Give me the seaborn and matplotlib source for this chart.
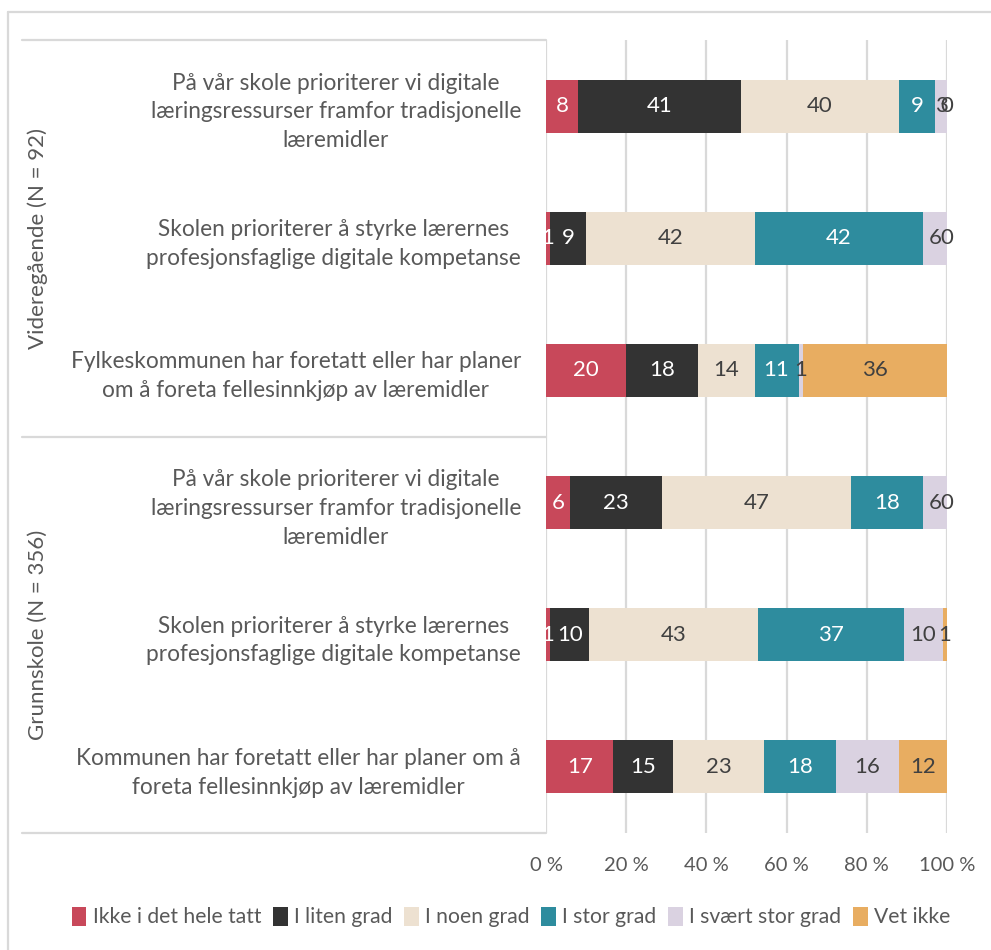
import numpy as np
import pandas as pd
import matplotlib
matplotlib.use("Agg")
import matplotlib.pyplot as plt
import matplotlib.transforms as mtransforms
from matplotlib.lines import Line2D
from matplotlib.patches import Patch
import seaborn as sns

# --- data -------------------------------------------------------------
statements = [
    "På vår skole prioriterer vi digitale\nlæringsressurser framfor tradisjonelle\nlæremidler",
    "Skolen prioriterer å styrke lærernes\nprofesjonsfaglige digitale kompetanse",
    "Fylkeskommunen har foretatt eller har planer\nom å foreta fellesinnkjøp av læremidler",
    "På vår skole prioriterer vi digitale\nlæringsressurser framfor tradisjonelle\nlæremidler",
    "Skolen prioriterer å styrke lærernes\nprofesjonsfaglige digitale kompetanse",
    "Kommunen har foretatt eller har planer om å\nforeta fellesinnkjøp av læremidler",
]
groups = ["Videregående (N = 92)", "Grunnskole (N = 356)"]
responses = ["Ikke i det hele tatt", "I liten grad", "I noen grad",
             "I stor grad", "I svært stor grad", "Vet ikke"]

ikke_i_det_hele_tatt = [8, 1, 20, 6, 1, 17]
i_liten_grad = [41, 9, 18, 23, 10, 15]
i_noen_grad = [40, 42, 14, 47, 43, 23]
i_stor_grad = [9, 42, 11, 18, 37, 18]
i_svaert_stor_grad = [3, 6, 1, 6, 10, 16]
vet_ikke = [0, 0, 36, 0, 1, 12]

x_ticks = [0, 20, 40, 60, 80, 100]

colors = ["#C8485A", "#333333", "#EDE1D1", "#2E8C9E", "#DAD2E1", "#E8AD61"]
label_colors = ["white", "white", "#404040", "white", "#404040", "#404040"]

# --- tidy table with shares of each row (100 % stacked) ---------------
series = [ikke_i_det_hele_tatt, i_liten_grad, i_noen_grad,
          i_stor_grad, i_svaert_stor_grad, vet_ikke]
row_ids = [f"row{i}" for i in range(len(statements))]
records = []
for r, rid in enumerate(row_ids):
    vals = [s[r] for s in series]
    total = sum(vals)
    start = 0.0
    for k, resp in enumerate(responses):
        share = vals[k] / total * 100
        records.append(dict(row=rid, pos=r, response=resp, k=k, value=vals[k],
                            start=start, end=start + share))
        start += share
df = pd.DataFrame(records)

# --- style ------------------------------------------------------------
sns.set_style("white")
plt.rcParams["font.family"] = ["Lato", "DejaVu Sans"]
text_grey = "#595959"
grid_grey = "#D9D9D9"

fig = plt.figure(figsize=(9.91, 9.5), dpi=100)
ax = fig.add_axes([546 / 991, 1 - 833 / 950, 401 / 991, 793 / 950])

# stacked bars: draw cumulative ends from the last category backwards
for k in reversed(range(len(responses))):
    sub = df[df["k"] == k]
    sns.barplot(data=sub, x="end", y="row", order=row_ids, orient="h",
                color=colors[k], saturation=1, width=0.4, errorbar=None,
                linewidth=0, ax=ax)

# value labels centred in each segment
for _, rec in df.iterrows():
    ax.text((rec["start"] + rec["end"]) / 2, rec["pos"], f"{rec['value']:d}",
            ha="center", va="center", fontsize=16,
            color=label_colors[rec["k"]])

# axes
ax.set_xlim(0, 100)
ax.set_ylim(5.5, -0.5)
ax.set_xticks(x_ticks)
ax.set_xticklabels([f"{t} %" for t in x_ticks])
ax.set_yticks(range(len(statements)))
ax.set_yticklabels(statements, multialignment="center", linespacing=1.45)
ax.set_xlabel("")
ax.set_ylabel("")
for sp in ax.spines.values():
    sp.set_visible(False)
ax.grid(axis="x", color=grid_grey, linewidth=1.6)
ax.grid(axis="y", visible=False)
ax.set_axisbelow(True)
ax.tick_params(axis="x", length=0, pad=17, labelsize=14.5, labelcolor=text_grey)
ax.tick_params(axis="y", length=0, pad=18, labelsize=16.3, labelcolor=text_grey)

# group separators and group titles on the category axis
trans = mtransforms.blended_transform_factory(ax.transAxes, ax.transData)
x_left = (22 - 546) / 401
for y in (-0.5, 2.5, 5.5):
    ax.add_line(Line2D([x_left, 0], [y, y], transform=trans, color=grid_grey,
                       linewidth=1.6, clip_on=False))
x_group = (38 - 546) / 401
for g, yc in zip(groups, (1, 4)):
    ax.text(x_group, yc, g, transform=trans, rotation=90, ha="center",
            va="center", fontsize=16, color=text_grey)

# chart frame
fig.add_artist(Line2D([8 / 991, 8 / 991], [0, 1 - 12 / 950], color=grid_grey,
                      linewidth=1.6, transform=fig.transFigure))
fig.add_artist(Line2D([8 / 991, 1], [1 - 12 / 950, 1 - 12 / 950], color=grid_grey,
                      linewidth=1.6, transform=fig.transFigure))

# legend
handles = [Patch(facecolor=c, edgecolor="none") for c in colors]
fig.legend(handles, responses, loc="center", bbox_to_anchor=(511 / 991, 1 - 917 / 950),
           ncol=6, frameon=False, fontsize=15.2, labelcolor=text_grey,
           handlelength=0.7, handleheight=1.0, handletextpad=0.3,
           columnspacing=0.55)

fig.savefig("out.png", dpi=100)
